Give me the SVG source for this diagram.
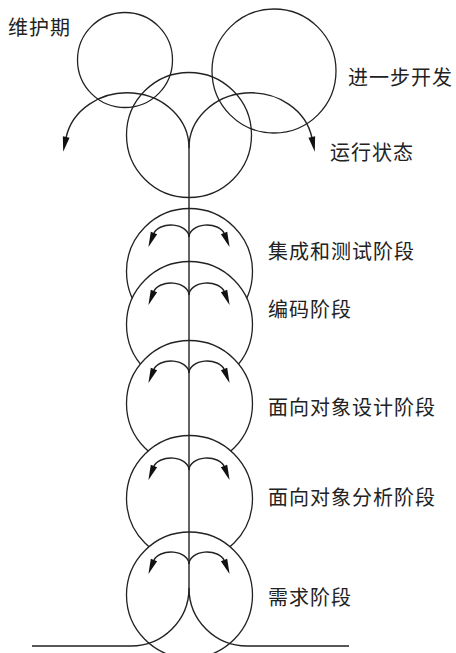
<svg xmlns="http://www.w3.org/2000/svg" width="456" height="653" viewBox="0 0 456 653">
<style>
.c{fill:none;stroke:#222;stroke-width:1.3}
.cf{fill:#fff;stroke:#222;stroke-width:1.3}
.l{fill:none;stroke:#222;stroke-width:1.4}
.t{font-family:"Noto Sans CJK SC","Noto Sans CJK JP",sans-serif;font-size:20px;letter-spacing:1px;fill:#222}
</style>
<defs>
<marker id="ah" markerUnits="userSpaceOnUse" markerWidth="16" markerHeight="10" viewBox="0 -5 16 10" refX="0" refY="0" orient="auto" overflow="visible">
<path d="M-1,-3.4 L14,0 L-1,3.4 z" fill="#111"/>
</marker>
</defs>
<rect width="456" height="653" fill="#fff"/>
<g id="maintenance">
<circle class="c" cx="125" cy="60" r="47.5"/>
<text class="t" x="8" y="35">维护期</text>
</g>
<g id="further-dev">
<circle class="c" cx="274" cy="71" r="62"/>
<text class="t" x="348" y="85">进一步开发</text>
</g>
<g id="operation">
<circle class="c" cx="189" cy="135" r="62.5"/>
<text class="t" x="330" y="160">运行状态</text>
</g>
<g id="integration-test">
<circle class="cf" cx="189.5" cy="271.5" r="63"/>
<text class="t" x="268" y="258.5">集成和测试阶段</text>
</g>
<g id="coding">
<circle class="cf" cx="189.5" cy="324.5" r="63"/>
<text class="t" x="268" y="316.5">编码阶段</text>
</g>
<g id="oo-design">
<circle class="cf" cx="189.5" cy="403.5" r="63"/>
<text class="t" x="268" y="414.5">面向对象设计阶段</text>
</g>
<g id="oo-analysis">
<circle class="cf" cx="189.5" cy="498.5" r="63"/>
<text class="t" x="268" y="505">面向对象分析阶段</text>
</g>
<g id="requirements">
<circle class="cf" cx="189.5" cy="595" r="63"/>
<text class="t" x="268" y="605">需求阶段</text>
</g>
<g id="connectors">
<path class="l" d="M189,148 V588"/>
<path class="l" d="M189,148 A62,55 0 0 0 66,138" marker-end="url(#ah)"/>
<path class="l" d="M189,148 A62,55 0 0 1 312,138" marker-end="url(#ah)"/>
<path class="l" d="M32,646 H131 A58,58 0 0 0 189,588"/>
<path class="l" d="M349,646 H247 A58,58 0 0 1 189,588"/>
<path class="l" d="M189,237 A18,12 0 0 0 153.6,233.9" marker-end="url(#ah)"/>
<path class="l" d="M189,237 A18,12 0 0 1 224.4,233.9" marker-end="url(#ah)"/>
<path class="l" d="M189,295 A18,12 0 0 0 153.6,291.9" marker-end="url(#ah)"/>
<path class="l" d="M189,295 A18,12 0 0 1 224.4,291.9" marker-end="url(#ah)"/>
<path class="l" d="M189,373 A18,12 0 0 0 153.6,369.9" marker-end="url(#ah)"/>
<path class="l" d="M189,373 A18,12 0 0 1 224.4,369.9" marker-end="url(#ah)"/>
<path class="l" d="M189,470 A18,12 0 0 0 153.6,466.9" marker-end="url(#ah)"/>
<path class="l" d="M189,470 A18,12 0 0 1 224.4,466.9" marker-end="url(#ah)"/>
<path class="l" d="M189,564 A18,12 0 0 0 153.6,560.9" marker-end="url(#ah)"/>
<path class="l" d="M189,564 A18,12 0 0 1 224.4,560.9" marker-end="url(#ah)"/>
</g>
</svg>
